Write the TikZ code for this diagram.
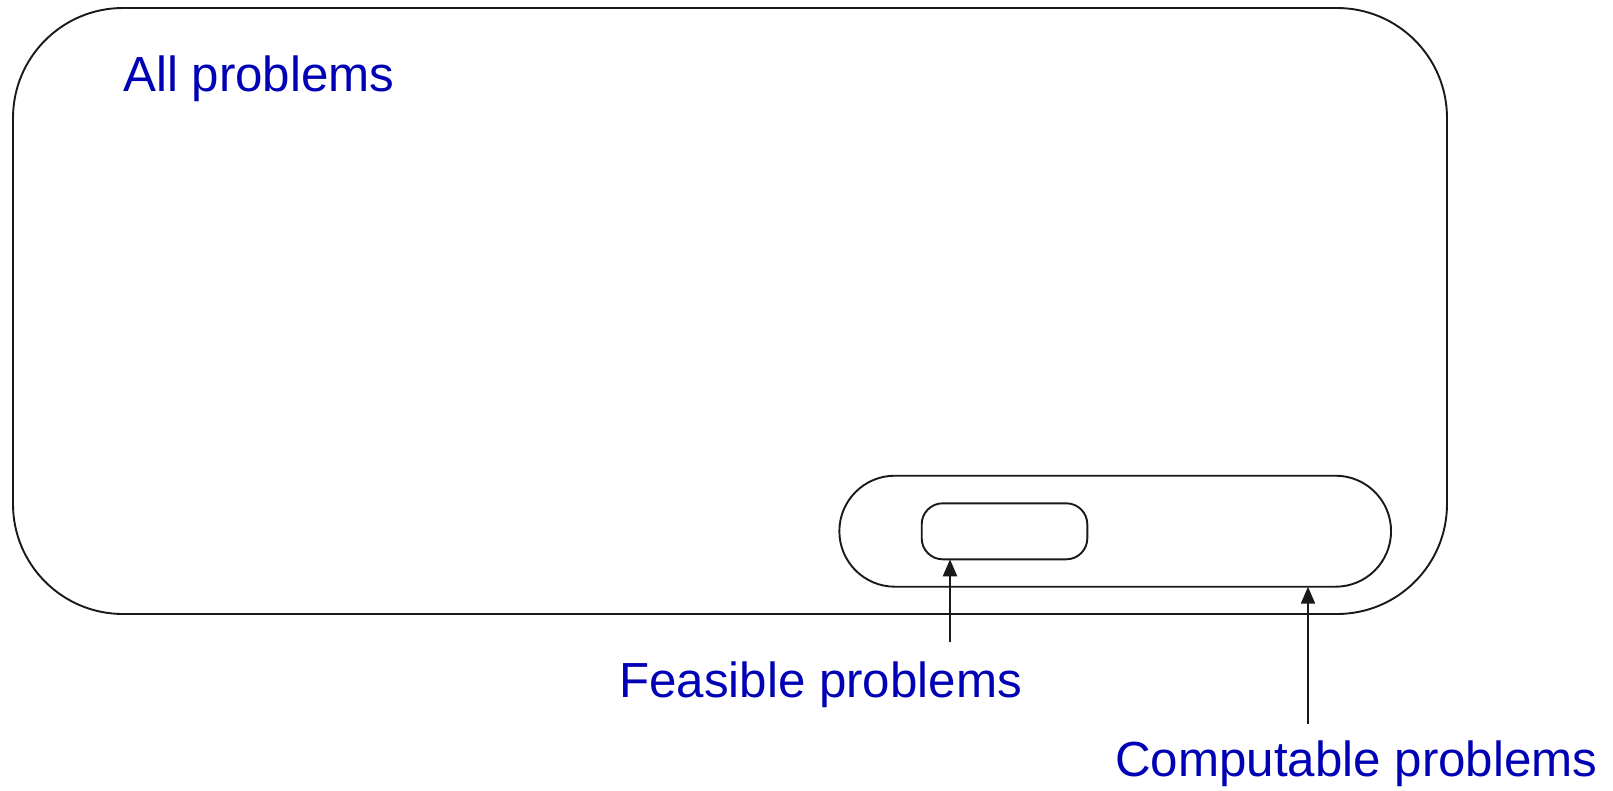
\documentclass[tikz,border=0pt]{standalone}
\usepackage{fontspec}
\setmainfont{Liberation Sans}
\usetikzlibrary{arrows.meta}
\definecolor{lbl}{RGB}{0,0,180}
\begin{document}
\begin{tikzpicture}[x=1pt,y=-1pt,
  setbox/.style={draw=black!90, line width=1.9pt, inner sep=0pt, outer sep=0pt},
  lbltext/.style={text=lbl, inner sep=0pt, anchor=base west, font=\fontsize{49.3}{56}\selectfont},
  arr/.style={draw=black!90, line width=2.2pt, -{Triangle[length=17pt,width=14pt]}}]
\useasboundingbox (0,0) rectangle (1613,790);
\node[setbox, rounded corners=110pt, minimum width=1434pt, minimum height=606pt] (all) at (730,311) {};
\node[setbox, rounded corners=55.5pt, minimum width=551.7pt, minimum height=111pt] (comp) at (1115.2,531.2) {};
\node[setbox, rounded corners=21pt, minimum width=165.6pt, minimum height=56pt] (feas) at (1004.5,531.3) {};
\node[lbltext] (alllbl) at (123,91) {All problems};
\node[lbltext] (feaslbl) at (619,697) {Feasible problems};
\node[lbltext] (complbl) at (1115,776) {Computable problems};
\coordinate (fstart) at (950,641.7);
\coordinate (cstart) at (1308,724);
\draw[arr] (fstart) -- (fstart |- feas.south);
\draw[arr] (cstart) -- (cstart |- comp.south);
\end{tikzpicture}
\end{document}
